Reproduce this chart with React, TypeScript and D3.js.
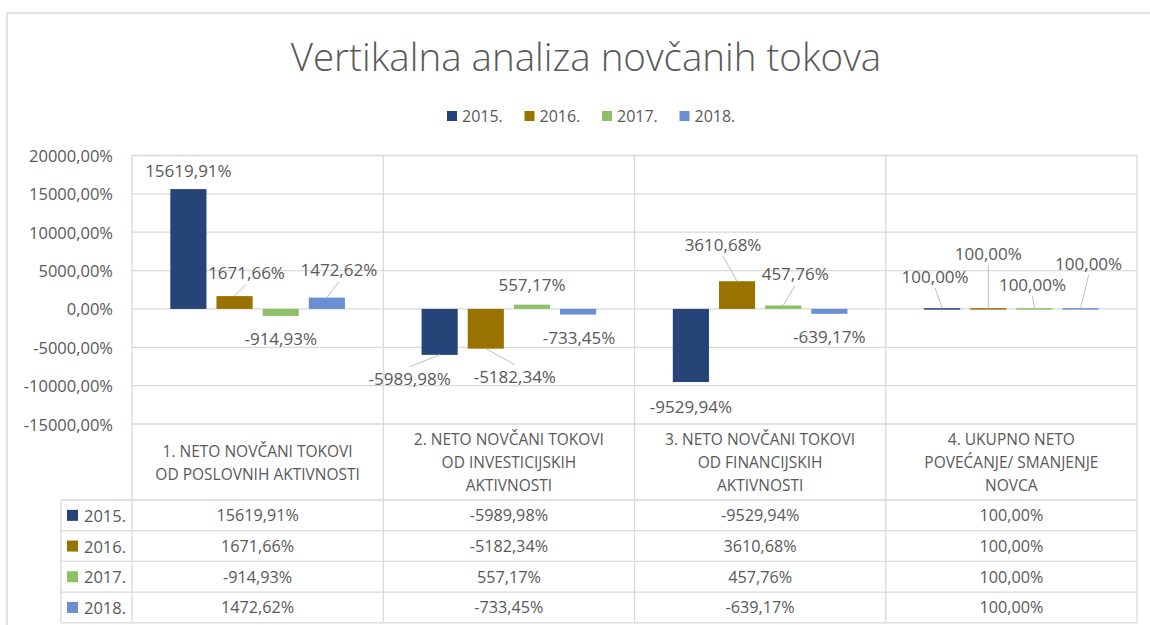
import * as d3 from "d3";

const categories = [
  ["1. NETO NOVČANI TOKOVI", "OD POSLOVNIH AKTIVNOSTI"],
  ["2. NETO NOVČANI TOKOVI", "OD INVESTICIJSKIH", "AKTIVNOSTI"],
  ["3. NETO NOVČANI TOKOVI", "OD FINANCIJSKIH", "AKTIVNOSTI"],
  ["4. UKUPNO NETO", "POVEĆANJE/ SMANJENJE", "NOVCA"],
];

const years = ["2015.", "2016.", "2017.", "2018."];

const values2015 = [15619.91, -5989.98, -9529.94, 100.0];
const values2016 = [1671.66, -5182.34, 3610.68, 100.0];
const values2017 = [-914.93, 557.17, 457.76, 100.0];
const values2018 = [1472.62, -733.45, -639.17, 100.0];

const yTicks = [-15000, -10000, -5000, 0, 5000, 10000, 15000, 20000];

const seriesColors = ["#264478", "#997300", "#8cc168", "#6a8fd2"];

// label shifts (dx, dy from bar end) per year, per category - Excel labels were dragged by hand
const labelShift = [
  [[0, -19], [-30, 24], [0, 24], [-7, -32]],
  [[12, -24], [29, 28], [-14, -37], [0, -55]],
  [[0, 23], [0, -20], [12, -32], [-2, -24]],
  [[12, -28], [1, 23], [0, 23], [8, -45]],
];
const hasLeader = [
  [false, true, false, true],
  [true, true, true, true],
  [false, false, true, true],
  [true, false, false, true],
];

const series = [values2015, values2016, values2017, values2018];

const loc = d3.formatLocale({ decimal: ",", thousands: "", grouping: [3], currency: ["", ""], minus: "-" });
const fmt = (v: number) => loc.format(".2f")(v) + "%";

const FONT = "'Open Sans', sans-serif";
const TEXT = "#595959";
const GRID = "#d9d9d9";

export default function App() {
  const width = 1150;
  const height = 625;

  const plotLeft = 132;
  const plotRight = 1137;
  const plotTop = 155.5;
  const plotBottom = 424;

  const headerBottom = 500;
  const rowH = 30.7;
  const labelColLeft = 61;

  const x0 = d3.scaleBand<number>()
    .domain(d3.range(categories.length))
    .range([plotLeft, plotRight]);

  const x1 = d3.scaleBand<number>()
    .domain(d3.range(years.length))
    .range([0, x0.bandwidth()])
    .paddingInner(0.217)
    .paddingOuter(0.83);

  const y = d3.scaleLinear()
    .domain([-15000, 20000])
    .range([plotBottom, plotTop]);

  const rowY = d3.scaleBand<number>()
    .domain(d3.range(years.length))
    .range([headerBottom, headerBottom + rowH * years.length]);

  const legendX = d3.scalePoint<number>()
    .domain(d3.range(years.length))
    .range([447, 679.5]);

  return (
    <svg width={width} height={height} style={{ position: "absolute", left: 0, top: 0, background: "#fff" }} fontFamily={FONT}>
      <rect x={7} y={13} width={1160} height={640} fill="#fff" stroke={GRID} strokeWidth={1.5} />

      {/* title */}
      <text x={586} y={56} textAnchor="middle" dominantBaseline="central" fontSize={38.5} fontWeight={300} fill={TEXT}>
        Vertikalna analiza novčanih tokova
      </text>

      {/* legend */}
      {years.map((yr, i) => (
        <g key={yr} transform={`translate(${legendX(i)}, 116)`}>
          <rect x={0} y={-5} width={10} height={10} fill={seriesColors[i]} />
          <text x={15} y={0} dominantBaseline="central" fontSize={16} fill={TEXT}>{yr}</text>
        </g>
      ))}

      {/* horizontal gridlines + y labels */}
      {yTicks.map((t) => (
        <g key={t}>
          <line x1={plotLeft} x2={plotRight} y1={y(t)} y2={y(t)} stroke={GRID} strokeWidth={1.3} />
          <text x={113} y={y(t)} textAnchor="end" dominantBaseline="central" fontSize={16.5} fill={TEXT}>
            {fmt(t)}
          </text>
        </g>
      ))}

      {/* category separators through plot and header */}
      {d3.range(categories.length + 1).map((i) => {
        const xx = i < categories.length ? x0(i)! : plotRight;
        return (
          <line key={i} x1={xx} x2={xx} y1={plotTop} y2={headerBottom + rowH * years.length} stroke={GRID} strokeWidth={1.3} />
        );
      })}

      {/* bars */}
      {series.map((vals, s) =>
        vals.map((v, c) => {
          const bx = x0(c)! + x1(s)!;
          const y0 = y(0);
          const yv = y(v);
          return (
            <rect
              key={`${s}-${c}`}
              x={bx}
              y={Math.min(y0, yv)}
              width={x1.bandwidth()}
              height={Math.max(Math.abs(yv - y0), 1.5)}
              fill={seriesColors[s]}
            />
          );
        })
      )}

      {/* data labels with leader lines */}
      {series.map((vals, s) =>
        vals.map((v, c) => {
          const cx = x0(c)! + x1(s)! + x1.bandwidth() / 2;
          const by = y(v);
          const [dx, dy] = labelShift[s][c];
          const lx = cx + dx;
          const ly = by + dy;
          const sign = dy < 0 ? 1 : -1;
          return (
            <g key={`l-${s}-${c}`}>
              {hasLeader[s][c] && (
                <line x1={lx} y1={ly + sign * 12} x2={cx} y2={by} stroke="#bfbfbf" strokeWidth={1} />
              )}
              <text x={lx} y={ly} textAnchor="middle" dominantBaseline="central" fontSize={17} fill={TEXT}>
                {fmt(v)}
              </text>
            </g>
          );
        })
      )}

      {/* data table */}
      <line x1={plotLeft} x2={plotRight} y1={headerBottom} y2={headerBottom} stroke={GRID} strokeWidth={1.3} />
      {categories.map((lines, c) => {
        const cx = x0(c)! + x0.bandwidth() / 2;
        const mid = (plotBottom + headerBottom) / 2;
        const start = mid - ((lines.length - 1) * 23) / 2;
        return (
          <g key={c}>
            {lines.map((ln, k) => (
              <text key={k} x={cx} y={start + k * 23} textAnchor="middle" dominantBaseline="central" fontSize={15.5} fill={TEXT}>
                {ln}
              </text>
            ))}
          </g>
        );
      })}

      {years.map((yr, r) => {
        const ry = rowY(r)!;
        const mid = ry + rowY.bandwidth() / 2;
        return (
          <g key={yr}>
            <line x1={labelColLeft} x2={plotRight} y1={ry + rowY.bandwidth()} y2={ry + rowY.bandwidth()} stroke={GRID} strokeWidth={1.3} />
            <rect x={67} y={mid - 5.5} width={11} height={11} fill={seriesColors[r]} />
            <text x={84} y={mid} dominantBaseline="central" fontSize={16.5} fill={TEXT}>{yr}</text>
            {series[r].map((v, c) => (
              <text key={c} x={x0(c)! + x0.bandwidth() / 2} y={mid} textAnchor="middle" dominantBaseline="central" fontSize={16.2} fill={TEXT}>
                {fmt(v)}
              </text>
            ))}
          </g>
        );
      })}
      <line x1={labelColLeft} x2={plotLeft} y1={headerBottom} y2={headerBottom} stroke={GRID} strokeWidth={1.3} />
      <line x1={labelColLeft} x2={labelColLeft} y1={headerBottom} y2={headerBottom + rowH * years.length} stroke={GRID} strokeWidth={1.3} />
    </svg>
  );
}
